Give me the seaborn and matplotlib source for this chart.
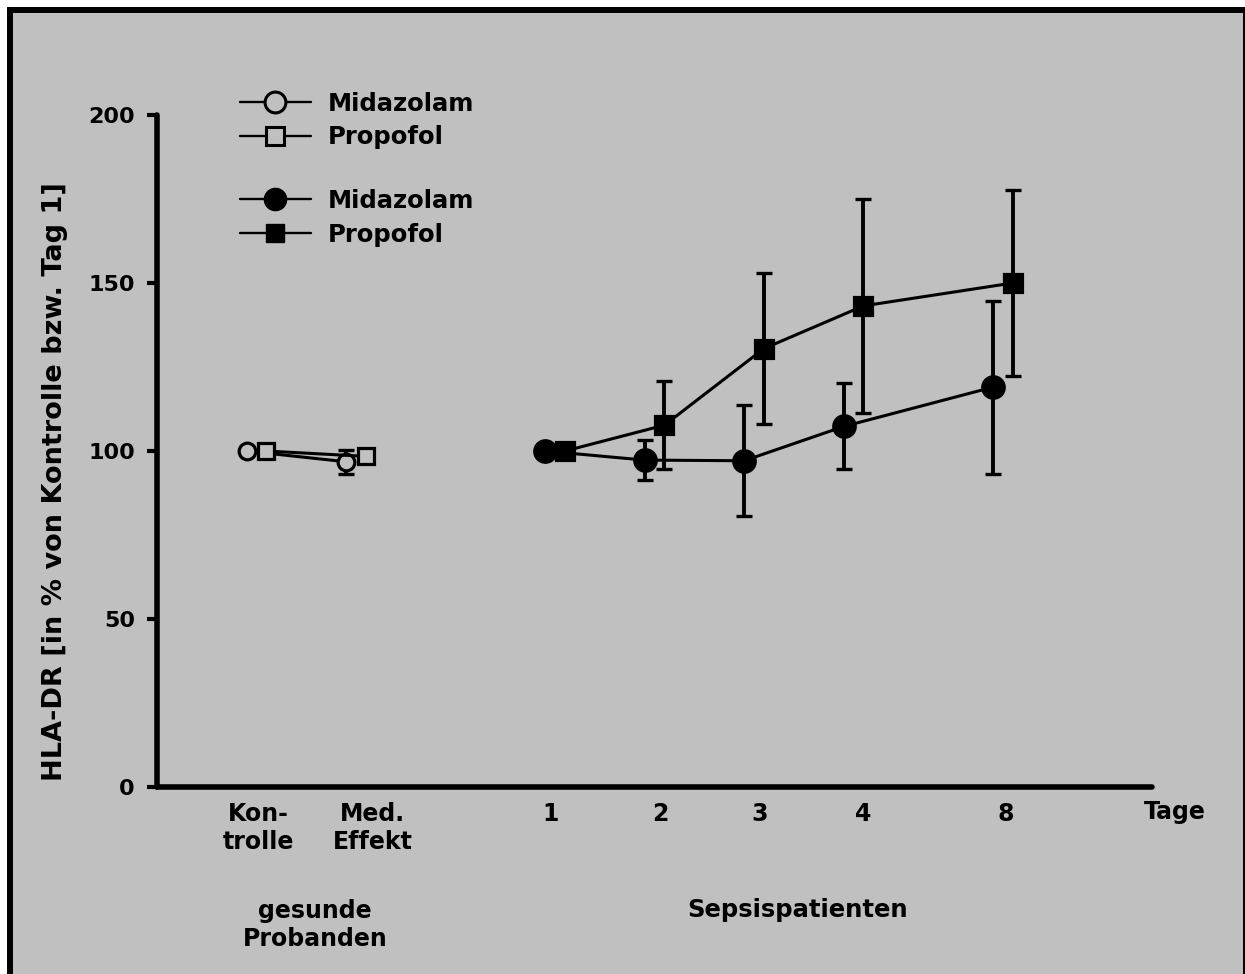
import matplotlib
matplotlib.use("Agg")
import pandas as pd
import matplotlib.pyplot as plt
from matplotlib.lines import Line2D
from matplotlib.patches import Rectangle
import seaborn as sns

# gesunde Probanden (offene Symbole)
healthy_pos = [1.0, 2.0]
healthy_mida = [100, 96.8]
healthy_mida_err = [0, 3.5]
healthy_prop = [100, 98.4]
healthy_prop_err = [0, 2.0]

# Sepsispatienten (gefuellte Symbole)
sepsis_pos = [4.0, 5.0, 6.0, 7.0, 8.5]
sepsis_mida = [100, 97.3, 97.1, 107.3, 119.0]
sepsis_mida_err = [0, 6.0, 16.5, 12.8, 25.7]
sepsis_prop = [100, 107.7, 130.5, 143.2, 150.0]
sepsis_prop_err = [0, 13.1, 22.6, 31.8, 27.7]

tick_pos = [1.02, 2.17, 3.96, 5.06, 6.06, 7.10, 8.53]
tick_labels = ["Kon-\ntrolle", "Med.\nEffekt", "1", "2", "3", "4", "8"]

GREY = "#C0C0C0"
OFF = 0.1

sns.set_theme(style="ticks")
plt.rcParams["font.family"] = ["DejaVu Sans"]
plt.rcParams["font.weight"] = "bold"
for k in ["text.color", "axes.labelcolor", "xtick.color", "ytick.color"]:
    plt.rcParams[k] = "black"

fig = plt.figure(figsize=(12.45, 9.74), dpi=100)
fig.patch.set_facecolor("white")
fig.patches.append(
    Rectangle((0.00803, -0.05), 0.99277, 1.03976, transform=fig.transFigure,
              facecolor=GREY, edgecolor="black", lw=4.3, zorder=-10)
)

ax = fig.add_axes([0.1261, 0.1920, 0.8472, 0.6899])
ax.patch.set_visible(False)


def draw(pos, vals, errs, shift, marker, ms, face):
    xs = [p + shift for p in pos]
    df = pd.DataFrame({"x": xs, "y": vals})
    ax.errorbar(xs, vals, yerr=errs, fmt="none", ecolor="black",
                elinewidth=2.8, capsize=5.5, capthick=2.4, zorder=2)
    sns.lineplot(data=df, x="x", y="y", ax=ax, color="black", linewidth=2.2,
                 marker=marker, markersize=ms, markerfacecolor=face,
                 markeredgecolor="black", markeredgewidth=2.3, zorder=3,
                 estimator=None, sort=False)


draw(healthy_pos, healthy_mida, healthy_mida_err, -OFF, "o", 12, GREY)
draw(healthy_pos, healthy_prop, healthy_prop_err, OFF, "s", 12, GREY)
draw(sepsis_pos, sepsis_mida, sepsis_mida_err, -OFF, "o", 15.5, "black")
draw(sepsis_pos, sepsis_prop, sepsis_prop_err, OFF, "s", 13, "black")

ax.set_xlim(0, 10.6)
ax.set_ylim(0, 200)
ax.spines["top"].set_visible(False)
ax.spines["right"].set_visible(False)
ax.spines["bottom"].set_bounds(0, 10)
for s in ["left", "bottom"]:
    ax.spines[s].set_linewidth(4)
    ax.spines[s].set_color("black")
    ax.spines[s].set_capstyle("round")

ax.set_yticks([0, 50, 100, 150, 200])
ax.set_yticklabels(["0", "50", "100", "150", "200"], fontsize=16, fontweight="bold")
ax.tick_params(axis="y", direction="out", length=7, width=3, pad=9, colors="black")
ax.set_xticks(tick_pos)
ax.set_xticklabels(tick_labels, fontsize=17, fontweight="bold", linespacing=1.2)
ax.tick_params(axis="x", length=0, pad=11, colors="black")
ax.set_xlabel("")
ax.set_ylabel("HLA-DR [in % von Kontrolle bzw. Tag 1]", fontsize=19.5, fontweight="bold")
ax.yaxis.set_label_coords(-0.084, 0.454)

trans = ax.get_xaxis_transform()
ax.text(10.23, -0.037, "Tage", transform=trans, ha="center", va="center",
        fontsize=17, fontweight="bold")
ax.text(1.59, -0.205, "gesunde\nProbanden", transform=trans, ha="center",
        va="center", fontsize=17, fontweight="bold", linespacing=1.2)
ax.text(6.44, -0.183, "Sepsispatienten", transform=trans, ha="center",
        va="center", fontsize=17.5, fontweight="bold")

open_h = [
    Line2D([], [], color="black", lw=1.7, marker="o", markersize=15,
           markerfacecolor=GREY, markeredgecolor="black", markeredgewidth=2.2),
    Line2D([], [], color="black", lw=1.7, marker="s", markersize=13,
           markerfacecolor=GREY, markeredgecolor="black", markeredgewidth=2.2),
]
filled_h = [
    Line2D([], [], color="black", lw=1.7, marker="o", markersize=16,
           markerfacecolor="black", markeredgecolor="black"),
    Line2D([], [], color="black", lw=1.7, marker="s", markersize=13.5,
           markerfacecolor="black", markeredgecolor="black"),
]
leg_kw = dict(loc="upper left", frameon=False, borderpad=0, borderaxespad=0,
              handlelength=2.9, handletextpad=0.7, labelspacing=0.4,
              prop={"size": 17.5, "weight": "bold"}, bbox_transform=fig.transFigure)
leg1 = ax.legend(open_h, ["Midazolam", "Propofol"],
                 bbox_to_anchor=(0.1928, 0.906), **leg_kw)
ax.add_artist(leg1)
ax.legend(filled_h, ["Midazolam", "Propofol"],
          bbox_to_anchor=(0.1928, 0.806), **leg_kw)

fig.savefig("out.png", dpi=100, facecolor=fig.get_facecolor())
